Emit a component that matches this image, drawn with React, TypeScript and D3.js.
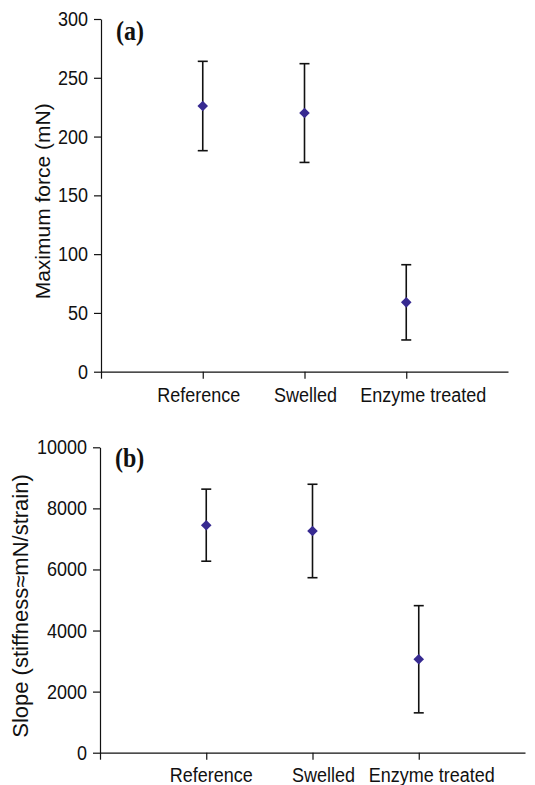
import React from 'react';
import * as d3 from 'd3';

const categories = ['Reference', 'Swelled', 'Enzyme treated'];

const forceMean = [226, 220, 59];
const forceErr = [38, 42, 32];
const forceTicks = [0, 50, 100, 150, 200, 250, 300];

const slopeMean = [7450, 7260, 3060];
const slopeErr = [1180, 1530, 1755];
const slopeTicks = [0, 2000, 4000, 6000, 8000, 10000];

// the source scan is a little taller than wide, so text is stretched a bit
const stretch = 1.13;

const panels = [
  {
    id: 'a',
    tag: '(a)',
    title: 'Maximum force (mN)',
    mean: forceMean,
    err: forceErr,
    ticks: forceTicks,
    max: 300,
    left: 101, right: 508, top: 19, bottom: 371.7,
    titleX: 50, titleSize: 21,
    tagY: 40,
    labelY: 402,
    labelDx: [-4, 1, 17]
  },
  {
    id: 'b',
    tag: '(b)',
    title: 'Slope (stiffness\u2248mN/strain)',
    mean: slopeMean,
    err: slopeErr,
    ticks: slopeTicks,
    max: 10000,
    left: 100, right: 525, top: 447.3, bottom: 752.7,
    titleX: 28, titleSize: 22,
    tagY: 466.5,
    labelY: 782,
    labelDx: [5, 11, 13]
  }
];

class ErrorPanels extends React.Component {

  componentDidMount() {
    this.drawChart();
  }

  drawChart() {
    var svg = d3.select('.err-chart');
    svg.selectAll('*').remove();

    panels.forEach(p => {
      var x = d3.scaleLinear().domain([0, 4]).range([p.left, p.right]);
      var y = d3.scaleLinear().domain([0, p.max]).range([p.bottom, p.top]);
      var g = svg.append('g');

      var yAxis = d3.axisLeft(y)
        .tickValues(p.ticks)
        .tickSize(7)
        .tickSizeOuter(0)
        .tickPadding(6)
        .tickFormat(d3.format('d'));

      g.append('g')
        .attr('transform', `translate(${p.left},0)`)
        .call(yAxis)
        .call(a => a.selectAll('text')
          .attr('font-size', 18)
          .attr('fill', '#111')
          .attr('transform', `scale(1,${stretch})`))
        .call(a => a.selectAll('line,path').attr('stroke', '#111').attr('stroke-width', 1.2));

      var xAxis = d3.axisBottom(x)
        .tickValues([0, 1, 2, 3])
        .tickSize(7)
        .tickSizeOuter(0)
        .tickFormat(() => '');

      g.append('g')
        .attr('transform', `translate(0,${p.bottom})`)
        .call(xAxis)
        .call(a => a.selectAll('line,path').attr('stroke', '#111').attr('stroke-width', 1.2));

      g.selectAll('.cat')
        .data(categories)
        .enter()
        .append('text')
        .attr('transform', (d, i) => `translate(${x(i + 1) + p.labelDx[i]},${p.labelY}) scale(1,${stretch})`)
        .attr('text-anchor', 'middle')
        .attr('font-size', 18)
        .attr('fill', '#111')
        .text(d => d);

      g.append('text')
        .attr('transform', `translate(${p.titleX},${(p.top + p.bottom) / 2 + 6}) rotate(-90)`)
        .attr('text-anchor', 'middle')
        .attr('font-size', p.titleSize)
        .attr('fill', '#111')
        .text(p.title);

      g.append('text')
        .attr('transform', `translate(${p.left + 15},${p.tagY}) scale(1,${stretch})`)
        .attr('font-family', '"Liberation Serif", "Times New Roman", serif')
        .attr('font-weight', 'bold')
        .attr('font-size', 24)
        .attr('fill', '#111')
        .text(p.tag);

      var bars = g.selectAll('.bar')
        .data(p.mean)
        .enter()
        .append('g');

      bars.append('line')
        .attr('x1', (d, i) => x(i + 1))
        .attr('x2', (d, i) => x(i + 1))
        .attr('y1', (d, i) => y(d + p.err[i]))
        .attr('y2', (d, i) => y(d - p.err[i]))
        .attr('stroke', '#111')
        .attr('stroke-width', 1.6);

      bars.append('line')
        .attr('x1', (d, i) => x(i + 1) - 5)
        .attr('x2', (d, i) => x(i + 1) + 5)
        .attr('y1', (d, i) => y(d + p.err[i]))
        .attr('y2', (d, i) => y(d + p.err[i]))
        .attr('stroke', '#111')
        .attr('stroke-width', 1.6);

      bars.append('line')
        .attr('x1', (d, i) => x(i + 1) - 5)
        .attr('x2', (d, i) => x(i + 1) + 5)
        .attr('y1', (d, i) => y(d - p.err[i]))
        .attr('y2', (d, i) => y(d - p.err[i]))
        .attr('stroke', '#111')
        .attr('stroke-width', 1.6);

      bars.append('path')
        .attr('d', d3.symbol(d3.symbolSquare, 56))
        .attr('transform', (d, i) => `translate(${x(i + 1)},${y(d)}) rotate(45)`)
        .attr('fill', '#372a91');
    });
  }

  render() {
    return (
      <svg
        className="err-chart"
        width={535}
        height={785}
        fontFamily='"Liberation Sans", Arial, Helvetica, sans-serif'
        style={{ position: 'absolute', left: 0, top: 0, background: '#fff' }}
      ></svg>
    );
  }

}

export default function App() {
  return <ErrorPanels />;
}
